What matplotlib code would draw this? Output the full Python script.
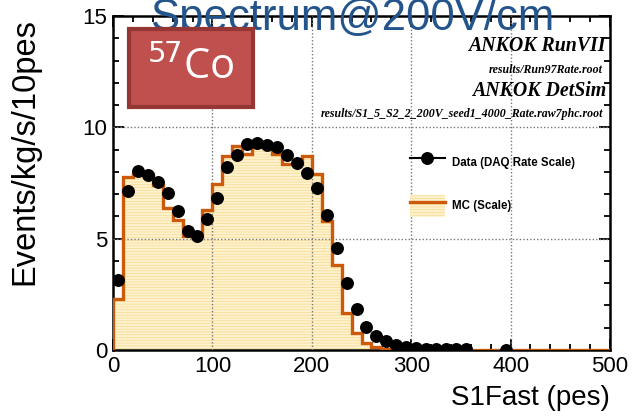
import matplotlib
matplotlib.use("Agg")
import matplotlib.pyplot as plt
import numpy as np
from matplotlib.lines import Line2D
from matplotlib.patches import Patch, Rectangle

# S1Fast bins of 10 pes
bin_edges = np.arange(0, 510, 10)

# MC (Scale), one value per bin, 0-500 pes
mc_vals = [2.27, 7.79, 7.91, 7.91, 7.42, 6.39, 5.84, 5.12, 5.12, 6.3,
           7.46, 8.73, 9.18, 8.8, 9.1, 9.1, 8.8, 8.36, 8.36, 8.73,
           7.91, 5.8, 3.81, 1.67, 0.75, 0.3, 0.12, 0.05, 0.03, 0.01] + [0.0] * 20

# Data (DAQ Rate Scale), bin centres
data_x = [5, 15, 25, 35, 45, 55, 65, 75, 85, 95,
          105, 115, 125, 135, 145, 155, 165, 175, 185, 195,
          205, 215, 225, 235, 245, 255, 265, 275, 285, 295,
          305, 315, 325, 335, 345, 355, 395]
data_y = [3.13, 7.12, 8.03, 7.87, 7.54, 7.05, 6.24, 5.33, 5.12, 5.87,
          6.84, 8.24, 8.76, 9.25, 9.3, 9.21, 9.1, 8.76, 8.4, 7.96,
          7.29, 6.07, 4.59, 3.02, 1.84, 1.04, 0.61, 0.4, 0.22, 0.12,
          0.08, 0.06, 0.04, 0.04, 0.03, 0.03, 0.02]

orange = "#cc5a0a"
fill_col = "#fff3cf"
hatch_col = "#f8dc98"

plt.rcParams["font.family"] = ["Liberation Sans", "DejaVu Sans"]
plt.rcParams["hatch.linewidth"] = 0.6

fig = plt.figure(figsize=(6.34, 4.18), dpi=100)
ax = fig.add_axes([113 / 634, 1 - 350 / 418, 497 / 634, 334 / 418])

# grid
for gx in [100, 200, 300, 400]:
    ax.axvline(gx, color="#777777", lw=1.0, ls=(0, (1, 1.5)), zorder=3)
for gy in [5, 10]:
    ax.axhline(gy, color="#777777", lw=1.0, ls=(0, (1, 1.5)), zorder=3)

# MC histogram
ax.stairs(mc_vals, bin_edges, fill=True, facecolor=fill_col, edgecolor=hatch_col,
          hatch="------", lw=0, zorder=2)
ax.stairs(mc_vals, bin_edges, baseline=0, color=orange, lw=2.4, zorder=4)

# data
ax.plot(data_x, data_y, "o", color="black", ms=8.3, zorder=5)

ax.set_xlim(0, 500)
ax.set_ylim(0, 15)
ax.set_xticks([0, 100, 200, 300, 400, 500])
ax.set_yticks([0, 5, 10, 15])
ax.set_xticks(np.arange(0, 501, 20), minor=True)
ax.set_yticks(np.arange(0, 16, 1), minor=True)
ax.tick_params(which="both", direction="in", top=True, right=True, width=1.3,
               labelsize=16, pad=4)
ax.tick_params(which="major", length=8)
ax.tick_params(which="minor", length=4.5)
for sp in ax.spines.values():
    sp.set_linewidth(1.8)

ax.set_xlabel("S1Fast (pes)", fontsize=20, ha="right")
ax.xaxis.set_label_coords(1.0, -48 / 334)
ax.xaxis.label.set_va("center")
ax.set_ylabel("Events/kg/s/10pes", fontsize=23.5, ha="right", va="center")
ax.yaxis.set_label_coords(-88 / 497, 1 - 2 / 334)

# legend
h_data = Line2D([], [], color="black", marker="o", ms=8.3, lw=1.5)
h_mc = (Patch(facecolor=fill_col, edgecolor=hatch_col, hatch="------", lw=0),
        Line2D([], [], color=orange, lw=2.4))
fig.legend([h_data, h_mc], ["Data (DAQ Rate Scale)", "MC (Scale)"],
           loc="upper left", bbox_to_anchor=(410 / 634, 1 - 151 / 418),
           frameon=False, borderpad=0, borderaxespad=0,
           prop={"weight": "bold", "size": 8.3}, handlelength=3.0,
           handleheight=2.6, handletextpad=0.65, labelspacing=1.85)

# ROOT-style labels
serif = {"family": ["Liberation Serif", "DejaVu Serif"], "style": "italic", "weight": "bold"}
fig.text(606 / 634, 1 - 46 / 418, "ANKOK RunVII", ha="right", va="center", fontsize=14.3, **serif)
fig.text(603 / 634, 1 - 70 / 418, "results/Run97Rate.root", ha="right", va="center", fontsize=8.6, **serif)
fig.text(606 / 634, 1 - 91 / 418, "ANKOK DetSim", ha="right", va="center", fontsize=14.3, **serif)
fig.text(603 / 634, 1 - 114 / 418, "results/S1_5_S2_2_200V_seed1_4000_Rate.raw7phc.root",
         ha="right", va="center", fontsize=8.6, **serif)

# slide title
fig.text(352 / 634, 1 - 30 / 418, "Spectrum@200V/cm", ha="center", va="baseline",
         fontsize=31.5, color="#24548c", zorder=10)

# 57Co badge
badge = Rectangle((129 / 634, 1 - 107 / 418), 124 / 634, 78 / 418,
                  transform=fig.transFigure, facecolor="#c0504d", edgecolor="#943634",
                  lw=3, zorder=11)
fig.add_artist(badge)
fig.text(191 / 634, 1 - 68 / 418, r"$^{57}$Co", ha="center", va="center",
         fontsize=30, color="white", family=["Open Sans", "DejaVu Sans"], zorder=12)

fig.savefig("out.png", dpi=100)
